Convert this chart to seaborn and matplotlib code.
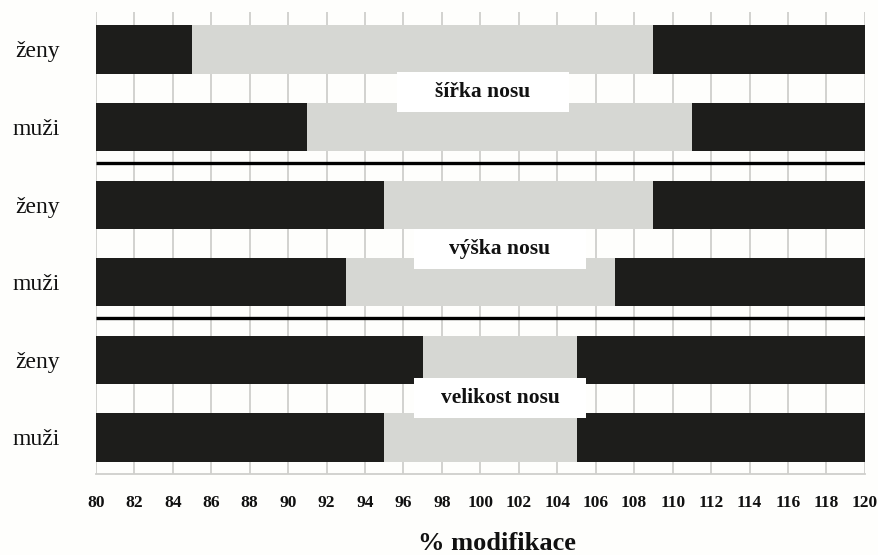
import matplotlib
matplotlib.use("Agg")
import matplotlib.pyplot as plt
import seaborn as sns
import pandas as pd
from matplotlib.patches import Rectangle

# ---- data ----
row_ids = ["r1", "r2", "r3", "r4", "r5", "r6"]
row_labels = ["ženy", "muži", "ženy", "muži", "ženy", "muži"]
left_black_end = [85, 91, 95, 93, 97, 95]      # end of left black segment
gray_end = [109, 111, 109, 107, 105, 105]      # end of grey segment
axis_max = [120, 120, 120, 120, 120, 120]
group_labels = ["šířka nosu", "výška nosu", "velikost nosu"]
group_label_y = [0.55, 2.57, 4.49]
xticks = list(range(80, 121, 2))

BLACK = "#1d1d1b"
GRAY = "#d6d7d3"

sns.set_theme(style="white")
plt.rcParams["font.family"] = ["Liberation Serif", "DejaVu Serif"]

df = pd.DataFrame({"row": row_ids, "left": left_black_end,
                   "gray": gray_end, "full": axis_max})

fig = plt.figure(figsize=(8.79, 5.55), dpi=100, facecolor="#fefefc")
ax = fig.add_axes([0.109, 0.146, 0.875, 0.832])
ax.set_facecolor("#fefefc")

# grid
for xv in xticks:
    ax.axvline(xv, color="#cfcfcc", lw=1.3, zorder=0)

bw = 0.62
sns.barplot(data=df, y="row", x="full", orient="h", color=BLACK,
            width=bw, saturation=1, ax=ax, zorder=2, edgecolor="none")
sns.barplot(data=df, y="row", x="gray", orient="h", color=GRAY,
            width=bw, saturation=1, ax=ax, zorder=3, edgecolor="none")
sns.barplot(data=df, y="row", x="left", orient="h", color=BLACK,
            width=bw, saturation=1, ax=ax, zorder=4, edgecolor="none")

ax.set_xlim(80, 120)
ax.set_ylim(5.47, -0.48)

# separators
ax.hlines([1.46, 3.46], 80, 120, color="black", lw=2.4, zorder=6)

# group labels with white boxes
box_x = [(95.66, 104.6), (96.54, 105.49), (96.54, 105.49)]
for (x0, x1), yc, txt in zip(box_x, group_label_y, group_labels):
    ax.add_patch(Rectangle((x0, yc - 0.26), x1 - x0, 0.52, facecolor="white",
                           edgecolor="none", zorder=7))
    ax.text((x0 + x1) / 2, yc, txt, ha="center", va="center",
            fontsize=15.5, fontweight="bold", zorder=8, color="#111111")

ax.set_xticks(xticks)
ax.set_xticklabels([str(v) for v in xticks], fontsize=12.5, fontweight="bold")
ax.set_yticks(range(6))
ax.set_yticklabels(row_labels, fontsize=17)
ax.tick_params(axis="x", length=0, pad=15, colors="#111111")
ax.tick_params(axis="y", length=0, pad=26, colors="#111111")

ax.set_xlabel("% modifikace", fontsize=19, fontweight="bold", labelpad=15,
              color="#111111")
ax.xaxis.label.set_x(0.521)
ax.set_ylabel("")

for s in ["top", "left", "right"]:
    ax.spines[s].set_visible(False)
ax.spines["bottom"].set_color("#cfcfcc")
ax.spines["bottom"].set_linewidth(1.3)

fig.savefig("out.png", dpi=100, facecolor=fig.get_facecolor())
